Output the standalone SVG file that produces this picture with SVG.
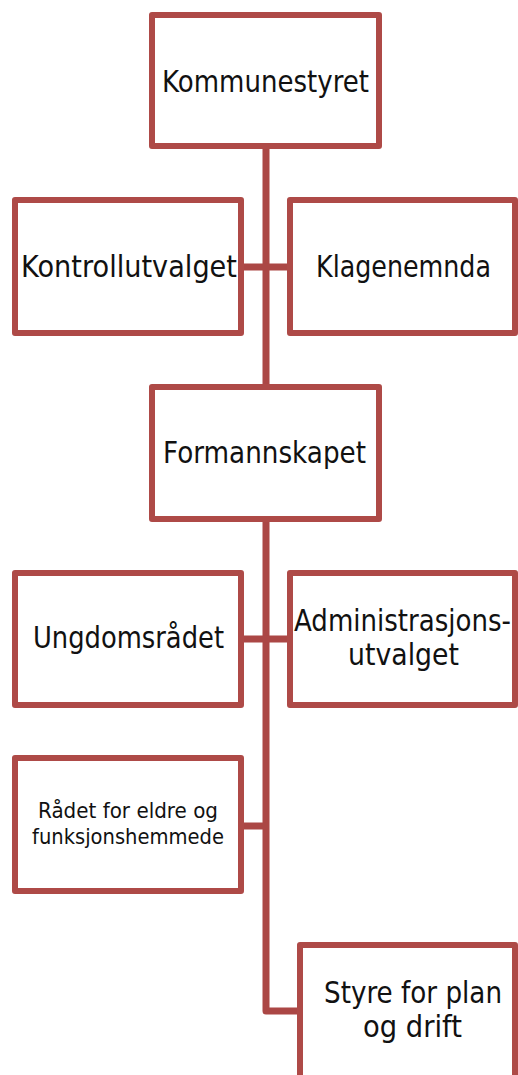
<svg xmlns="http://www.w3.org/2000/svg" width="518" height="1075" viewBox="0 0 518 1075">
<style>
.box{fill:#fff;stroke:#ae4a47;stroke-width:6;stroke-linejoin:round}
.con{fill:none;stroke:#ab4745;stroke-width:7;stroke-linejoin:round}
.t{font-family:"DejaVu Sans","Liberation Sans",sans-serif;font-size:31px;fill:#111;text-anchor:middle}
.s{font-family:"DejaVu Sans","Liberation Sans",sans-serif;font-size:22px;fill:#111;text-anchor:middle}
</style>
<rect width="518" height="1075" fill="#fff"/>
<g id="connectors">
<path class="con" d="M266 146 V1011 H300"/>
<path class="con" d="M241 267 H290"/>
<path class="con" d="M241 639 H290"/>
<path class="con" d="M241 826 H266"/>
</g>
<g id="kommunestyret">
<rect class="box" x="152" y="15" width="227" height="131"/>
<text class="t" x="265.5" y="91.5" textLength="207" lengthAdjust="spacingAndGlyphs">Kommunestyret</text>
</g>
<g id="kontrollutvalget">
<rect class="box" x="15" y="200" width="226" height="133"/>
<text class="t" x="129" y="277" textLength="216" lengthAdjust="spacingAndGlyphs">Kontrollutvalget</text>
</g>
<g id="klagenemnda">
<rect class="box" x="290" y="200" width="225" height="133"/>
<text class="t" x="403.5" y="277" textLength="175" lengthAdjust="spacingAndGlyphs">Klagenemnda</text>
</g>
<g id="formannskapet">
<rect class="box" x="152" y="387" width="227" height="132"/>
<text class="t" x="264.5" y="463" textLength="203" lengthAdjust="spacingAndGlyphs">Formannskapet</text>
</g>
<g id="ungdomsradet">
<rect class="box" x="15" y="573" width="226" height="132"/>
<text class="t" x="128.5" y="648" textLength="191" lengthAdjust="spacingAndGlyphs">Ungdomsrådet</text>
</g>
<g id="administrasjonsutvalget">
<rect class="box" x="290" y="573" width="225" height="132"/>
<text class="t" x="402.5" y="631" textLength="217" lengthAdjust="spacingAndGlyphs">Administrasjons-</text>
<text class="t" x="403.5" y="665" textLength="111" lengthAdjust="spacingAndGlyphs">utvalget</text>
</g>
<g id="radet-eldre">
<rect class="box" x="15" y="758" width="226" height="133"/>
<text class="s" x="128" y="818" textLength="180" lengthAdjust="spacingAndGlyphs">Rådet for eldre og</text>
<text class="s" x="128" y="844" textLength="192" lengthAdjust="spacingAndGlyphs">funksjonshemmede</text>
</g>
<g id="styre-plan-drift">
<rect class="box" x="300" y="945" width="215" height="150"/>
<text class="t" x="413" y="1003" textLength="178" lengthAdjust="spacingAndGlyphs">Styre for plan</text>
<text class="t" x="412.5" y="1037" textLength="99" lengthAdjust="spacingAndGlyphs">og drift</text>
</g>
</svg>
